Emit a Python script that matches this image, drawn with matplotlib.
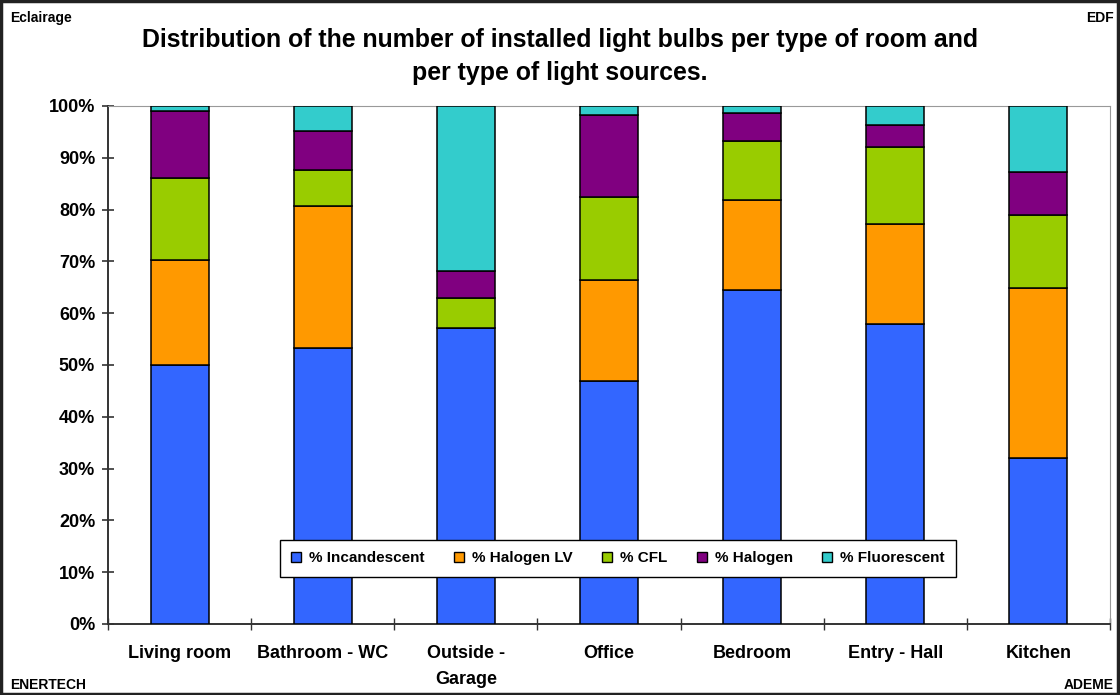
import matplotlib
matplotlib.use("Agg")
import matplotlib.pyplot as plt
import numpy as np
from matplotlib.patches import Rectangle

plt.rcParams['font.family'] = ['Liberation Sans', 'DejaVu Sans']
plt.rcParams['font.weight'] = 'bold'

rooms = ["Living room", "Bathroom - WC", "Outside -\nGarage", "Office",
         "Bedroom", "Entry - Hall", "Kitchen"]
incandescent = [50.0, 53.2, 57.2, 46.9, 64.5, 58.0, 32.0]
halogen_lv = [20.3, 27.5, 0.0, 19.5, 17.3, 19.3, 32.9]
cfl = [15.8, 6.9, 5.8, 16.0, 11.5, 14.8, 14.0]
halogen = [12.9, 7.6, 5.2, 15.8, 5.4, 4.2, 8.4]
fluorescent = [1.0, 4.8, 31.8, 1.8, 1.3, 3.7, 12.7]
y_ticks = [0, 10, 20, 30, 40, 50, 60, 70, 80, 90, 100]

series = [
    ("% Incandescent", incandescent, "#3366ff"),
    ("% Halogen LV", halogen_lv, "#ff9900"),
    ("% CFL", cfl, "#99cc00"),
    ("% Halogen", halogen, "#800080"),
    ("% Fluorescent", fluorescent, "#33cccc"),
]

W, H = 1120, 695
fig = plt.figure(figsize=(W / 100, H / 100), dpi=100)
ax = fig.add_axes([108 / W, 1 - 624 / H, (1110 - 108) / W, (624 - 106) / H])

x = np.arange(len(rooms))
bottom = np.zeros(len(rooms))
for name, vals, color in series:
    vals = np.array(vals)
    ax.bar(x, vals, width=0.405, bottom=bottom, color=color,
           edgecolor="black", linewidth=1.1, label=name, zorder=3)
    bottom += vals

ax.set_xlim(-0.5, len(rooms) - 0.5)
ax.set_ylim(0, 100)
ax.set_yticks(y_ticks)
ax.set_yticklabels([f"{v}%" for v in y_ticks], fontsize=13, fontweight="bold")
ax.set_xticks(x)
ax.set_xticklabels(rooms, fontsize=13, fontweight="bold", linespacing=1.7)
ax.tick_params(axis="x", length=0, pad=15)
ax.tick_params(axis="y", direction="inout", length=8.5, width=1.2, color="#333333", pad=5)

# category separators on the x axis
ax.set_xticks(np.arange(-0.5, len(rooms), 1.0), minor=True)
ax.tick_params(axis="x", which="minor", direction="inout", length=9, width=1, color="#333333")

ax.spines["left"].set_color("#333333")
ax.spines["left"].set_linewidth(1.4)
ax.spines["bottom"].set_color("#333333")
ax.spines["bottom"].set_linewidth(1.4)
ax.spines["top"].set_color("#999999")
ax.spines["right"].set_color("#999999")

leg = ax.legend(loc="center", bbox_to_anchor=(0.509, 0.127), ncol=5,
                prop={"size": 11, "weight": "bold"}, frameon=True, fancybox=False,
                framealpha=1.0, edgecolor="black", handlelength=0.65, handleheight=0.65,
                handletextpad=0.55, columnspacing=1.9, borderpad=0.75)
leg.get_frame().set_linewidth(1.0)
leg.set_zorder(5)
for h in leg.legend_handles:
    h.set_linewidth(1.0)

fig.text(0.5, 1 - 40 / H, "Distribution of the number of installed light bulbs per type of room and",
         ha="center", va="center", fontsize=17.9, fontweight="bold")
fig.text(0.5, 1 - 73 / H, "per type of light sources.", ha="center", va="center",
         fontsize=17.9, fontweight="bold")

fig.text(10 / W, 1 - 18 / H, "Eclairage", ha="left", va="center", fontsize=10, fontweight="bold")
fig.text(1 - 6 / W, 1 - 18 / H, "EDF", ha="right", va="center", fontsize=10, fontweight="bold")
fig.text(10 / W, 1 - 685 / H, "ENERTECH", ha="left", va="center", fontsize=10, fontweight="bold")
fig.text(1 - 6 / W, 1 - 685 / H, "ADEME", ha="right", va="center", fontsize=10, fontweight="bold")

fig.patches.append(Rectangle((0.001, 0.002), 0.997, 0.996, transform=fig.transFigure,
                             fill=False, edgecolor="#222222", linewidth=2.5))

fig.savefig("out.png", dpi=100)
